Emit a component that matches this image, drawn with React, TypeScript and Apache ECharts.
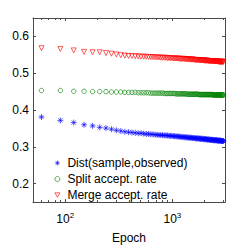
import React, { useEffect, useRef } from "react";
import * as echarts from "echarts";

const epochs = [
  60, 90, 120, 150, 180, 210, 240, 270, 300, 330, 360, 390, 420, 450, 480, 510, 540, 570, 600, 630,
  660, 690, 720, 750, 780, 810, 840, 870, 900, 930, 960, 990, 1020, 1050, 1080, 1110, 1140, 1170, 1200, 1230,
  1260, 1290, 1320, 1350, 1380, 1410, 1440, 1470, 1500, 1530, 1560, 1590, 1620, 1650, 1680, 1710, 1740, 1770, 1800, 1830,
  1860, 1890, 1920, 1950, 1980, 2010, 2040, 2070, 2100, 2130, 2160, 2190, 2220, 2250, 2280, 2310, 2340, 2370, 2400, 2430,
  2460, 2490, 2520, 2550, 2580, 2610, 2640, 2670, 2700, 2730, 2760, 2790, 2820, 2850, 2880, 2910, 2940, 2970, 3000,
];

const distValues = [
  0.381, 0.372, 0.366, 0.360, 0.357, 0.353, 0.351, 0.348, 0.345, 0.343, 0.341, 0.340, 0.339, 0.338, 0.337, 0.337, 0.336, 0.335, 0.335, 0.334,
  0.334, 0.333, 0.333, 0.332, 0.332, 0.332, 0.331, 0.331, 0.331, 0.330, 0.330, 0.330, 0.329, 0.329, 0.329, 0.328, 0.328, 0.328, 0.327, 0.327,
  0.327, 0.326, 0.326, 0.326, 0.326, 0.325, 0.325, 0.325, 0.325, 0.324, 0.324, 0.324, 0.324, 0.323, 0.323, 0.323, 0.323, 0.323, 0.322, 0.322,
  0.322, 0.322, 0.322, 0.321, 0.321, 0.321, 0.321, 0.321, 0.320, 0.320, 0.320, 0.320, 0.320, 0.319, 0.319, 0.319, 0.319, 0.319, 0.319, 0.318,
  0.318, 0.318, 0.318, 0.318, 0.318, 0.318, 0.317, 0.317, 0.317, 0.317, 0.317, 0.317, 0.317, 0.316, 0.316, 0.316, 0.316, 0.316, 0.316,
];

const splitValues = [
  0.453, 0.453, 0.451, 0.451, 0.450, 0.450, 0.450, 0.449, 0.449, 0.449, 0.448, 0.448, 0.448, 0.448, 0.447, 0.447, 0.447, 0.447, 0.447, 0.446,
  0.446, 0.446, 0.446, 0.446, 0.446, 0.446, 0.445, 0.445, 0.445, 0.445, 0.445, 0.445, 0.445, 0.445, 0.444, 0.444, 0.444, 0.444, 0.444, 0.444,
  0.444, 0.444, 0.444, 0.444, 0.443, 0.443, 0.443, 0.443, 0.443, 0.443, 0.443, 0.443, 0.443, 0.443, 0.443, 0.443, 0.443, 0.442, 0.442, 0.442,
  0.442, 0.442, 0.442, 0.442, 0.442, 0.442, 0.442, 0.442, 0.442, 0.442, 0.442, 0.442, 0.442, 0.442, 0.442, 0.442, 0.442, 0.442, 0.441, 0.441,
  0.441, 0.441, 0.441, 0.441, 0.441, 0.441, 0.441, 0.441, 0.441, 0.441, 0.441, 0.441, 0.441, 0.441, 0.441, 0.441, 0.441, 0.441, 0.441,
];

const mergeValues = [
  0.568, 0.566, 0.562, 0.558, 0.557, 0.557, 0.555, 0.553, 0.551, 0.549, 0.548, 0.547, 0.547, 0.546, 0.546, 0.545, 0.545, 0.545, 0.544, 0.544,
  0.544, 0.543, 0.543, 0.543, 0.542, 0.542, 0.542, 0.542, 0.541, 0.541, 0.541, 0.541, 0.540, 0.540, 0.540, 0.540, 0.540, 0.539, 0.539, 0.539,
  0.539, 0.539, 0.538, 0.538, 0.538, 0.538, 0.538, 0.537, 0.537, 0.537, 0.537, 0.537, 0.536, 0.536, 0.536, 0.536, 0.536, 0.536, 0.535, 0.535,
  0.535, 0.535, 0.535, 0.535, 0.534, 0.534, 0.534, 0.534, 0.534, 0.534, 0.534, 0.533, 0.533, 0.533, 0.533, 0.533, 0.533, 0.533, 0.533, 0.532,
  0.532, 0.532, 0.532, 0.532, 0.532, 0.532, 0.532, 0.532, 0.531, 0.531, 0.531, 0.531, 0.531, 0.531, 0.531, 0.531, 0.531, 0.531, 0.531,
];

const seriesNames = ["Dist(sample,observed)", "Split accept. rate", "Merge accept. rate"];
const yTicks = [0.2, 0.3, 0.4, 0.5, 0.6];
const xMajorTicks = [100, 1000];
const xMinorTicks = [60, 70, 80, 90, 200, 300, 400, 500, 600, 700, 800, 900, 2000, 3000];

const ASTERISK = "path://M5,0L5,10M0,5L10,5M1.6,1.6L8.4,8.4M1.6,8.4L8.4,1.6";
const TRIANGLE_DOWN = "path://M0,0L10,0L5,8.66Z";
const AXIS_COLOR = "#4a4a4a";
const FONT = "Liberation Sans, Arial, sans-serif";
const BLUE = "#0000ff";
const GREEN = "#008000";
const RED = "#ff0000";
const CLEAR = "rgba(0,0,0,0)";

export default function App() {
  const ref = useRef<HTMLDivElement>(null);
  useEffect(() => {
    if (!ref.current) return;
    const chart = echarts.init(ref.current, null, { renderer: "svg" });
    const pair = (vals: number[]) => epochs.map((e, i) => [e, vals[i]]);
    const xBase = {
      type: "log" as const,
      logBase: 10,
      min: 50,
      max: 3100,
      splitLine: { show: false },
      minorTick: { show: false },
    };
    const yBase = {
      type: "value" as const,
      min: 0.15,
      max: 0.65,
      splitLine: { show: false },
    };
    chart.setOption({
      animation: false,
      backgroundColor: "#fff",
      textStyle: { fontFamily: FONT },
      grid: { left: 33, top: 18, right: 24, bottom: 33 },
      xAxis: [
        {
          ...xBase,
          position: "bottom",
          axisLine: { show: true, lineStyle: { color: AXIS_COLOR, width: 1 } },
          axisTick: { show: true, inside: true, length: 3, customValues: xMajorTicks, lineStyle: { color: AXIS_COLOR } },
          axisLabel: {
            show: true,
            customValues: xMajorTicks,
            margin: 9,
            color: "#000",
            fontFamily: FONT,
            formatter: (v: number) => `{b|10}{s|${Math.round(Math.log10(v))}}`,
            rich: {
              b: { fontSize: 12, fontFamily: FONT, color: "#000", verticalAlign: "bottom", lineHeight: 14 },
              s: { fontSize: 8, fontFamily: FONT, color: "#000", verticalAlign: "top", lineHeight: 10, padding: [0, 0, 8, 0] },
            },
          },
          name: "Epoch",
          nameLocation: "middle",
          nameGap: 25,
          nameTextStyle: { fontSize: 12, color: "#000", fontFamily: FONT, verticalAlign: "top" },
        },
        {
          ...xBase,
          position: "bottom",
          axisLine: { show: false },
          axisTick: { show: true, inside: true, length: 2, customValues: xMinorTicks, lineStyle: { color: AXIS_COLOR } },
          axisLabel: { show: false },
        },
        {
          ...xBase,
          position: "top",
          axisLine: { show: true, lineStyle: { color: AXIS_COLOR, width: 1 } },
          axisTick: { show: true, inside: true, length: 3, customValues: xMajorTicks, lineStyle: { color: AXIS_COLOR } },
          axisLabel: { show: false },
        },
        {
          ...xBase,
          position: "top",
          axisLine: { show: false },
          axisTick: { show: true, inside: true, length: 2, customValues: xMinorTicks, lineStyle: { color: AXIS_COLOR } },
          axisLabel: { show: false },
        },
      ],
      yAxis: [
        {
          ...yBase,
          position: "left",
          axisLine: { show: true, lineStyle: { color: AXIS_COLOR, width: 1 } },
          axisTick: { show: true, inside: true, length: 3, customValues: yTicks, lineStyle: { color: AXIS_COLOR } },
          axisLabel: {
            show: true,
            customValues: yTicks,
            margin: 4,
            fontSize: 12,
            color: "#000",
            fontFamily: FONT,
            formatter: (v: number) => v.toFixed(1),
          },
        },
        {
          ...yBase,
          position: "right",
          axisLine: { show: true, lineStyle: { color: AXIS_COLOR, width: 1 } },
          axisTick: { show: true, inside: true, length: 3, customValues: yTicks, lineStyle: { color: AXIS_COLOR } },
          axisLabel: { show: false },
        },
      ],
      legend: {
        orient: "vertical",
        left: 54.5,
        top: 156,
        padding: 0,
        itemWidth: 5,
        itemHeight: 5,
        itemGap: 2,
        textStyle: { fontSize: 12, color: "#000", fontFamily: FONT, lineHeight: 14, padding: [0, 0, 0, 2.5] },
        data: [
          { name: seriesNames[0], icon: ASTERISK, itemStyle: { color: CLEAR, borderColor: BLUE, borderWidth: 0.8 } },
          { name: seriesNames[1], icon: "circle", itemStyle: { color: CLEAR, borderColor: GREEN, borderWidth: 0.8 } },
          { name: seriesNames[2], icon: TRIANGLE_DOWN, itemStyle: { color: CLEAR, borderColor: RED, borderWidth: 0.8 } },
        ],
      },
      series: [
        {
          name: seriesNames[0],
          type: "scatter",
          xAxisIndex: 0,
          yAxisIndex: 0,
          symbol: ASTERISK,
          symbolSize: 6,
          itemStyle: { color: CLEAR, borderColor: BLUE, borderWidth: 0.8 },
          data: pair(distValues),
        },
        {
          name: seriesNames[1],
          type: "scatter",
          xAxisIndex: 0,
          yAxisIndex: 0,
          symbol: "circle",
          symbolSize: 4.5,
          itemStyle: { color: CLEAR, borderColor: GREEN, borderWidth: 0.8 },
          data: pair(splitValues),
        },
        {
          name: seriesNames[2],
          type: "scatter",
          xAxisIndex: 0,
          yAxisIndex: 0,
          symbol: TRIANGLE_DOWN,
          symbolSize: 5,
          itemStyle: { color: CLEAR, borderColor: RED, borderWidth: 0.8 },
          data: pair(mergeValues),
        },
      ],
    });
    return () => chart.dispose();
  }, []);
  return <div ref={ref} style={{ width: 249, height: 249, position: "absolute", left: 0, top: 0 }} />;
}
